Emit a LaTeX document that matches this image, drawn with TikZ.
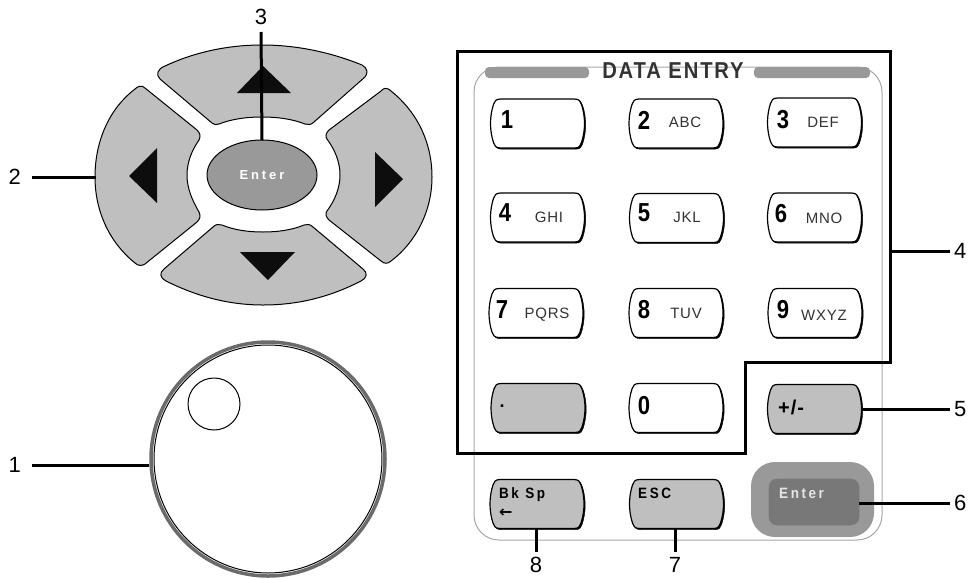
\documentclass[tikz,border=0pt]{standalone}
\usepackage{fontspec}
\usepackage{tikz}
\usetikzlibrary{shapes.geometric}
\setmainfont{Liberation Sans}
\newfontfamily\keyfont[FakeStretch=0.85]{Liberation Sans}
\newfontfamily\widefont[LetterSpace=22]{Liberation Sans}
\newfontfamily\tagfont[FakeStretch=0.9,LetterSpace=17]{Liberation Sans}
\newfontfamily\midfont[LetterSpace=5]{Liberation Sans}
\newfontfamily\titlefont[FakeStretch=0.88,LetterSpace=8]{Liberation Sans}
\newfontfamily\arrowfont{DejaVu Sans}
\definecolor{padgray}{gray}{0.75}
\definecolor{bargray}{gray}{0.6}
\definecolor{wellgray}{gray}{0.47}
\definecolor{panelgray}{gray}{0.65}
\definecolor{ringgray}{gray}{0.42}

\newcommand{\keycap}[4]{%
    \node at (#2,#3) [keybody] (#1) {};
    \draw[fill=black,shift={(#1.center)},shift={(1.2,1.2)}] (-37,-24.5) -- (37,-24.5) .. controls (42,-24.5) and (43,-22) .. (44,-19) .. controls (48,-7) and (48,7) .. (44,19) .. controls (43,22) and (42,24.5) .. (37,24.5) -- (-37,24.5) .. controls (-42,24.5) and (-43,22) .. (-44,19) .. controls (-48,7) and (-48,-7) .. (-44,-19) .. controls (-43,-22) and (-42,-24.5) .. (-37,-24.5) -- cycle;
    \draw[keyline,fill=#4,shift={(#1.center)}] (-37,-24.5) -- (37,-24.5) .. controls (42,-24.5) and (43,-22) .. (44,-19) .. controls (48,-7) and (48,7) .. (44,19) .. controls (43,22) and (42,24.5) .. (37,24.5) -- (-37,24.5) .. controls (-42,24.5) and (-43,22) .. (-44,19) .. controls (-48,7) and (-48,-7) .. (-44,-19) .. controls (-43,-22) and (-42,-24.5) .. (-37,-24.5) -- cycle;
}

\begin{document}
\begin{tikzpicture}[x=1pt,y=-1pt,
        keybody/.style={minimum width=95pt,minimum height=49pt,inner sep=0pt,outer sep=0pt},
        keyline/.style={draw=black,line width=1.2pt},
        padkey/.style={draw=black,line width=1pt,fill=padgray},
        padarrow/.style={fill=black!95},
        digit/.style={font=\keyfont\bfseries\fontsize{26}{26}\selectfont,inner sep=0pt},
        letters/.style={font=\midfont\fontsize{15}{15}\selectfont,text=black!80,inner sep=0pt},
        tag/.style={font=\tagfont\bfseries\fontsize{15}{15}\selectfont,inner sep=0pt},
        numlabel/.style={font=\fontsize{22}{22}\selectfont,inner sep=6pt},
        leader/.style={line width=3pt}]
    \useasboundingbox (0,0) rectangle (971,579);

    % touches de direction
    \path[padkey] (165,66) .. controls (195,52) and (228,45) .. (262,45) .. controls (296,45) and (330,52) .. (362,65) .. controls (368,68) and (368,74) .. (365,77) -- (314,122) .. controls (311,125) and (308,125) .. (305,124) .. controls (292,119) and (278,117) .. (262,117) .. controls (246,117) and (232,119) .. (219,124) .. controls (216,125) and (214,125) .. (212,123) -- (160,79) .. controls (156,75) and (157,69) .. (165,66) -- cycle;
    \path[padkey] (135,89) .. controls (110,108) and (95,140) .. (95,177) .. controls (95,212) and (110,243) .. (135,263) .. controls (138,266) and (142,266) .. (145,264) -- (197,222) .. controls (200,219) and (201,216) .. (199,212) .. controls (192,200) and (187,188) .. (187,175) .. controls (187,162) and (192,150) .. (199,140) .. controls (201,136) and (200,133) .. (197,130) -- (145,88) .. controls (142,85) and (138,86) .. (135,89) -- cycle;
    \path[padkey] (391,91) .. controls (415,110) and (432,140) .. (432,177) .. controls (432,212) and (415,243) .. (391,261) .. controls (388,264) and (384,264) .. (381,261) -- (329,220) .. controls (326,217) and (325,214) .. (327,211) .. controls (335,200) and (340,188) .. (340,175) .. controls (340,162) and (335,150) .. (327,139) .. controls (325,136) and (326,133) .. (329,130) -- (381,91) .. controls (384,87) and (388,88) .. (391,91) -- cycle;
    \path[padkey] (166,281) .. controls (198,297) and (230,305) .. (263,305) .. controls (298,305) and (330,297) .. (361,281) .. controls (367,278) and (368,273) .. (363,269) -- (313,227) .. controls (310,224) and (307,224) .. (304,225) .. controls (292,230) and (278,232) .. (263,232) .. controls (248,232) and (234,230) .. (222,225) .. controls (219,224) and (216,224) .. (213,227) -- (164,269) .. controls (159,273) and (160,278) .. (166,281) -- cycle;
    \fill[padarrow] (263,66) -- (237,93) -- (291,93) -- cycle;
    \fill[padarrow] (129,176) -- (157,148) -- (157,203) -- cycle;
    \fill[padarrow] (375,152) -- (375,207) -- (403,179) -- cycle;
    \fill[padarrow] (240,252) -- (295,252) -- (268,280) -- cycle;
    \node at (262,175) [ellipse,draw=black,line width=1pt,fill=bargray,minimum width=110pt,minimum height=70pt,inner sep=0pt,outer sep=0pt,text=white,font=\widefont\bfseries\fontsize{13}{13}\selectfont] (padEnter) {Enter};
    \coordinate (padLeft) at (96,177);

    % molette
    \node at (268,459) [circle,draw=ringgray,line width=3.5pt,minimum size=234pt,inner sep=0pt] (knob) {};
    \node at (268,459) [circle,draw=black,line width=1pt,minimum size=228pt,inner sep=0pt,outer sep=0pt] (knobRim) {};
    \node at (214,404) [circle,draw=black,line width=1pt,minimum size=52pt,inner sep=0pt] (knobDimple) {};

    % panneau du clavier
    \draw[draw=panelgray,line width=1pt,rounded corners=25pt] (474,67) rectangle (882,540);
    \fill[bargray,rounded corners=4pt] (485,67) rectangle (589,78);
    \fill[bargray,rounded corners=4pt] (754,67) rectangle (870,78);
    \node at (673,71) [font=\titlefont\bfseries\fontsize{23}{23}\selectfont,text=black!80,inner sep=0pt] (panelTitle) {DATA ENTRY};

    \keycap{keyOne}{537.5}{123.5}{white}
    \keycap{keyTwo}{676}{123.5}{white}
    \keycap{keyThree}{814.5}{122.5}{white}
    \keycap{keyFour}{537.5}{217.5}{white}
    \keycap{keyFive}{676.5}{218}{white}
    \keycap{keySix}{814.5}{217.5}{white}
    \keycap{keySeven}{536}{313}{white}
    \keycap{keyEight}{676}{313}{white}
    \keycap{keyNine}{815}{313}{white}
    \keycap{keyDot}{538}{408}{padgray}
    \keycap{keyZero}{676}{408}{white}
    \keycap{keyPlus}{814.5}{409}{padgray}
    \keycap{keyBack}{537}{504}{padgray}
    \keycap{keyEsc}{676.5}{504}{padgray}
    \fill[bargray,rounded corners=24pt] (751,462) rectangle (874,537);
    \node at (814,502) [draw=bargray!80!black,line width=.6pt,fill=wellgray,rounded corners=8pt,minimum width=90pt,minimum height=46pt,inner sep=0pt,outer sep=0pt] (enterKey) {};

    \node at (507,120) [digit] (digitOne) {1};
    \node at (644,120) [digit] (digitTwo) {2};
    \node at (685,122) [letters] (lettersTwo) {ABC};
    \node at (783,120) [digit] (digitThree) {3};
    \node at (823,122) [letters] (lettersThree) {DEF};
    \node at (505,213) [digit] (digitFour) {4};
    \node at (549,217) [letters] (lettersFour) {GHI};
    \node at (644,213) [digit] (digitFive) {5};
    \node at (687,217) [letters] (lettersFive) {JKL};
    \node at (781,214) [digit] (digitSix) {6};
    \node at (824,218) [letters] (lettersSix) {MNO};
    \node at (502,310) [digit] (digitSeven) {7};
    \node at (547,315) [letters] (lettersSeven) {PQRS};
    \node at (644,310) [digit] (digitEight) {8};
    \node at (686,313) [letters] (lettersEight) {TUV};
    \node at (783,310) [digit] (digitNine) {9};
    \node at (824,315) [letters] (lettersNine) {WXYZ};
    \node at (644,406) [digit] (digitZero) {0};
    \node at (502,406) [digit,font=\bfseries\fontsize{18}{18}\selectfont] (tagDot) {.};
    \node at (778,407) [right,tag,font=\midfont\bfseries\fontsize{20}{20}\selectfont] (tagPlus) {+/-};
    \node at (499,495) [right,tag] (tagBack) {Bk Sp};
    \node at (499,513) [right,tag,font=\arrowfont\bfseries\fontsize{16}{16}\selectfont] (tagArrow) {←};
    \node at (638,493) [right,tag] (tagEsc) {ESC};
    \node at (779,493) [right,tag,text=white!90!black] (tagEnter) {Enter};

    % cadre du groupe 4
    \draw[line width=3pt,line join=miter] (457,51) -- (890,51) -- (890,362) -- (745,362) -- (745,453) -- (457,453) -- cycle;
    \coordinate (frameEdge) at (890,251);

    % reperes
    \node at (32,465) [left,numlabel,inner xsep=11pt] (numOne) {1};
    \node at (32,177) [left,numlabel,inner xsep=11pt] (numTwo) {2};
    \node at (261,32) [above,numlabel,inner ysep=7pt] (numThree) {3};
    \node at (950,251) [right,numlabel,inner xsep=4pt] (numFour) {4};
    \node at (950,409) [right,numlabel,inner xsep=4pt] (numFive) {5};
    \node at (950,503) [right,numlabel,inner xsep=4pt] (numSix) {6};
    \node at (675,552) [below,numlabel,inner ysep=5pt] (numSeven) {7};
    \node at (536,552) [below,numlabel,inner ysep=5pt] (numEight) {8};

    \draw[leader] (numOne.east) -- (knob.west |- numOne.east);
    \draw[leader] (numTwo.east) -- (padLeft);
    \draw[leader] (numThree.south) -- (padEnter.north);
    \draw[leader] (frameEdge) -- (numFour.west);
    \draw[leader] (keyPlus.east) -- (numFive.west);
    \draw[leader] (enterKey.east |- numSix.west) -- (numSix.west);
    \draw[leader] (numSeven.north) -- (numSeven.north |- keyEsc.south);
    \draw[leader] (numEight.north) -- (numEight.north |- keyBack.south);
\end{tikzpicture}
\end{document}
